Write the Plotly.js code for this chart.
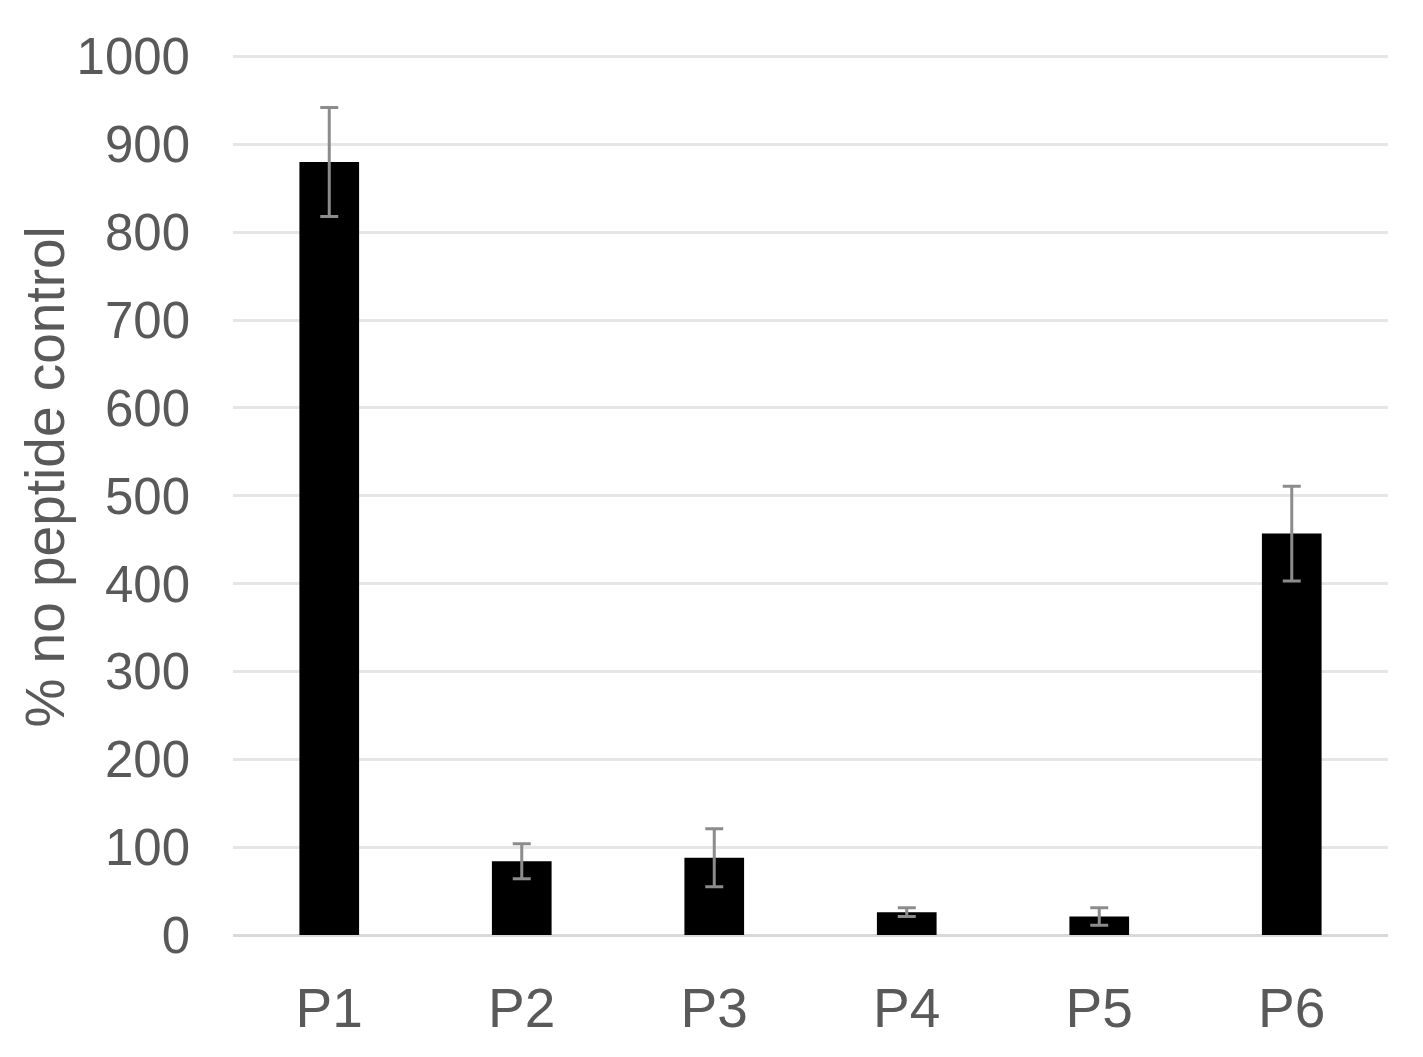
<!DOCTYPE html>
<html>
<head>
<meta charset="utf-8">
<script src="https://cdn.plot.ly/plotly-3.0.1.min.js"></script>
<style>html,body{margin:0;padding:0;background:#fff;}#chart{width:1423px;height:1057px;}</style>
</head>
<body>
<div id="chart"></div>
<script>
const categories = ["P1", "P2", "P3", "P4", "P5", "P6"];
const values = [880, 84, 88, 26, 21, 457];
const errors = [62, 20, 33, 5, 10, 54];
const yTickVals = [0, 100, 200, 300, 400, 500, 600, 700, 800, 900, 1000];
const yTitle = "% no peptide control";

const textColor = "#595959";
const fontFamily = "Liberation Sans, Arial, sans-serif";

const trace = {
  type: "bar",
  x: categories,
  y: values,
  width: 0.31,
  marker: {color: "#000000", line: {width: 0}},
  error_y: {type: "data", array: errors, visible: true, color: "#8c8c8c", thickness: 3, width: 9},
  hoverinfo: "none"
};

const layout = {
  width: 1423,
  height: 1057,
  margin: {l: 233, r: 35, t: 54, b: 122},
  paper_bgcolor: "#ffffff",
  plot_bgcolor: "#ffffff",
  showlegend: false,
  font: {family: fontFamily, color: textColor, size: 50},
  xaxis: {
    type: "category",
    showgrid: false,
    showline: false,
    zeroline: false,
    ticks: "",
    ticklabelstandoff: 36,
    tickfont: {family: fontFamily, size: 55, color: textColor},
    range: [-0.5, 5.5]
  },
  yaxis: {
    range: [0, 1003],
    tickvals: yTickVals,
    ticktext: yTickVals.map(String),
    showgrid: true,
    gridcolor: "#e6e6e6",
    gridwidth: 3,
    zeroline: true,
    zerolinecolor: "#d9d9d9",
    zerolinewidth: 3,
    showline: false,
    ticks: "",
    ticklabelstandoff: 42,
    tickfont: {family: fontFamily, size: 51, color: textColor}
  },
  annotations: [{
    text: yTitle,
    xref: "paper", yref: "paper",
    x: -0.163, y: 0.52,
    xanchor: "center", yanchor: "middle",
    textangle: -90,
    showarrow: false,
    font: {family: fontFamily, size: 55, color: textColor}
  }]
};

Plotly.newPlot("chart", [trace], layout, {displayModeBar: false, staticPlot: true});
</script>
</body>
</html>
